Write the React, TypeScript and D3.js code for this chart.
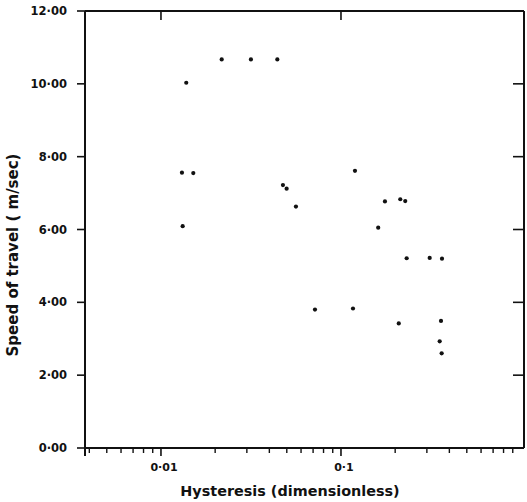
import React from "react";
import * as d3 from "d3";

const hysteresis: number[] = [
  0.02175, 0.0316, 0.0443, 0.01382, 0.01308, 0.01512, 0.1196, 0.0476,
  0.0499, 0.0562, 0.0132, 0.1755, 0.2135, 0.2275, 0.161, 0.2317,
  0.311, 0.364, 0.0717, 0.1166, 0.2094, 0.3594, 0.3535, 0.3625,
];
const speed: number[] = [
  10.67, 10.67, 10.67, 10.03, 7.56, 7.55, 7.61, 7.22,
  7.12, 6.63, 6.09, 6.77, 6.83, 6.78, 6.05, 5.21,
  5.22, 5.2, 3.8, 3.83, 3.42, 3.49, 2.93, 2.6,
];
const yTicks: number[] = [0, 2, 4, 6, 8, 10, 12];
const xMajorTicks: number[] = [0.01, 0.1];
const xMajorLabels: string[] = ["0·01", "0·1"];
const xMinorTicks: number[] = [
  0.004, 0.005, 0.006, 0.007, 0.008, 0.009,
  0.02, 0.03, 0.04, 0.05, 0.06, 0.07, 0.08, 0.09,
  0.2, 0.3, 0.4, 0.5, 0.6, 0.7, 0.8, 0.9,
];
const xTitle = "Hysteresis (dimensionless)";
const yTitle = "Speed of travel ( m/sec)";

const fmtY = (v: number) => v.toFixed(2).replace(".", "·");

export default function App() {
  const W = 527;
  const H = 502;
  const left = 85;
  const right = 524;
  const top = 11;
  const bottom = 448;
  const x = d3
    .scaleLog()
    .domain([Math.pow(10, -2.422), Math.pow(10, 0.0167)])
    .range([left, right]);
  const y = d3.scaleLinear().domain([0, 12]).range([bottom, top]);
  const font = "'DejaVu Sans', 'Liberation Sans', sans-serif";
  const stroke = "#111";

  return (
    <svg
      width={W}
      height={H}
      style={{ position: "absolute", left: 0, top: 0, background: "#fff" }}
    >
      {/* frame */}
      <line x1={left} x2={left} y1={top} y2={bottom + 8} stroke={stroke} strokeWidth={2} />
      <line x1={left} x2={right} y1={bottom} y2={bottom} stroke={stroke} strokeWidth={2} />
      <line x1={left} x2={right} y1={top} y2={top} stroke={stroke} strokeWidth={2} />
      <line x1={right} x2={right} y1={top} y2={bottom} stroke={stroke} strokeWidth={2} />

      {/* y ticks */}
      {yTicks.map((t) => (
        <g key={"y" + t}>
          <line x1={left - 8} x2={left} y1={y(t)} y2={y(t)} stroke={stroke} strokeWidth={1.6} />
          <line x1={right - 11} x2={right} y1={y(t)} y2={y(t)} stroke={stroke} strokeWidth={1.6} />
          <text
            x={67}
            y={y(t) + 4}
            textAnchor="end"
            fontFamily={font}
            fontWeight="bold"
            fontSize={11.5}
            fill={stroke}
          >
            {fmtY(t)}
          </text>
        </g>
      ))}

      {/* x minor ticks */}
      {xMinorTicks.map((t) => (
        <line
          key={"xm" + t}
          x1={x(t)}
          x2={x(t)}
          y1={bottom}
          y2={bottom + 5}
          stroke={stroke}
          strokeWidth={1.4}
        />
      ))}
      {/* x major ticks */}
      {xMajorTicks.map((t, i) => (
        <g key={"xM" + t}>
          <line x1={x(t)} x2={x(t)} y1={bottom} y2={bottom + 8} stroke={stroke} strokeWidth={1.6} />
          <line x1={x(t)} x2={x(t)} y1={top} y2={top + 9} stroke={stroke} strokeWidth={1.6} />
          <text
            x={x(t) + 3}
            y={bottom + 23}
            textAnchor="middle"
            fontFamily={font}
            fontWeight="bold"
            fontSize={11}
            fill={stroke}
          >
            {xMajorLabels[i]}
          </text>
        </g>
      ))}

      {/* titles */}
      <text
        x={290}
        y={496}
        textAnchor="middle"
        fontFamily={font}
        fontWeight="bold"
        fontSize={14.4}
        fill={stroke}
      >
        {xTitle}
      </text>
      <text
        transform={`translate(18, 255) rotate(-90)`}
        textAnchor="middle"
        fontFamily={font}
        fontWeight="bold"
        fontSize={15}
        fill={stroke}
      >
        {yTitle}
      </text>

      {/* points */}
      {hysteresis.map((h, i) => (
        <circle key={"p" + i} cx={x(h)} cy={y(speed[i])} r={2.1} fill={stroke} />
      ))}
    </svg>
  );
}
